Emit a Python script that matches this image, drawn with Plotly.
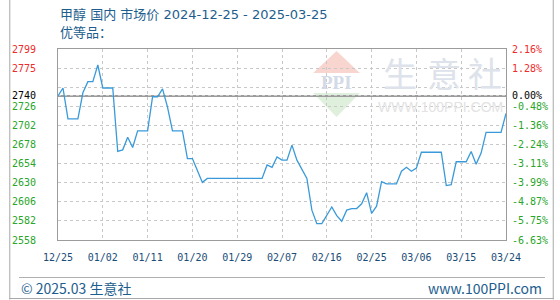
import plotly.graph_objects as go
import pandas as pd

# ---------------- data ----------------
dates = pd.date_range("2024-12-25", "2025-03-25", freq="D")
prices = [
    2740, 2750, 2711, 2711, 2711, 2744, 2758, 2758, 2779, 2750,
    2750, 2750, 2670, 2672, 2688, 2675, 2696, 2696, 2696, 2739,
    2739, 2749, 2726, 2696, 2696, 2696, 2661, 2661, 2646, 2631,
    2636, 2636, 2636, 2636, 2636, 2636, 2636, 2636, 2636, 2636,
    2636, 2636, 2653, 2650, 2663, 2659, 2659, 2678, 2659, 2647,
    2636, 2596, 2579, 2579, 2590, 2600, 2589, 2582, 2596, 2598,
    2598, 2604, 2618, 2592, 2601, 2632, 2629, 2629, 2629, 2645,
    2650, 2645, 2649, 2669, 2669, 2669, 2669, 2669, 2627, 2628,
    2657, 2657, 2657, 2670, 2654, 2668, 2694, 2694, 2694, 2694,
    2718,
]
base_price = 2740

y_tick_values = [2558.34, 2582.43, 2606.51, 2630.60, 2654.68, 2678.76,
                 2702.85, 2726.93, 2740.00, 2751.02, 2775.10, 2799.18]
y_tick_labels = ["2558", "2582", "2606", "2630", "2654", "2678",
                 "2702", "2726", "2740", "", "2775", "2799"]
pct_tick_labels = ["-6.63%", "-5.75%", "-4.87%", "-3.99%", "-3.11%", "-2.24%",
                   "-1.36%", "-0.48%", "0.00%", "", "1.28%", "2.16%"]

x_tick_dates = ["2024-12-25", "2025-01-03", "2025-01-12", "2025-01-21",
                "2025-01-30", "2025-02-08", "2025-02-17", "2025-02-26",
                "2025-03-07", "2025-03-16", "2025-03-25"]
x_tick_labels = ["12/25", "01/02", "01/11", "01/20", "01/29", "02/07",
                 "02/16", "02/25", "03/06", "03/15", "03/24"]

title_line1 = "甲醇 国内 市场价 2024-12-25 - 2025-03-25"
title_line2 = "优等品："

# ---------------- style ----------------
RED = "#ee2b2b"
GREEN = "#2aa52a"
BLACK = "#000000"
BLUE_TXT = "#1d5e8e"
LINE = "#3a9ad9"
GRID = "#c8c8c8"
FRAME = "#9c9c9c"

W, H = 560, 300
L, R, T, B = 50, 510, 49, 240


def px(x):
    return (x - L) / (R - L)


def py(y):
    return (B - y) / (B - T)


def colored(labels, values):
    out = []
    for lab, v in zip(labels, values):
        if lab == "":
            out.append("")
            continue
        if abs(v - base_price) < 0.5:
            c = BLACK
        elif v > base_price:
            c = RED
        else:
            c = GREEN
        out.append('<span style="color:%s">%s</span>' % (c, lab))
    return out


fig = go.Figure()
fig.add_trace(go.Scatter(x=dates, y=prices, mode="lines",
                         line=dict(color=LINE, width=1.3),
                         hoverinfo="skip", showlegend=False))
fig.add_trace(go.Scatter(x=dates, y=prices, mode="lines", yaxis="y2",
                         line=dict(color="rgba(0,0,0,0)", width=0),
                         hoverinfo="skip", showlegend=False))

tick_font = dict(family="DejaVu Sans Mono", size=10)
y_range = [y_tick_values[0], y_tick_values[-1]]

fig.update_layout(
    width=W, height=H,
    margin=dict(l=L, r=W - R, t=T, b=H - B, pad=0),
    paper_bgcolor="white", plot_bgcolor="white",
    showlegend=False,
    xaxis=dict(
        type="date",
        range=[dates[0], dates[-1]],
        tickvals=x_tick_dates, ticktext=x_tick_labels,
        tickfont=dict(family="DejaVu Sans Mono", size=10, color="#1a4c78"),
        ticks="outside", ticklen=8, tickcolor="rgba(0,0,0,0)",
        showgrid=True, gridcolor=GRID, griddash="3px,3px", gridwidth=1,
        showline=True, linecolor=FRAME, linewidth=1, mirror=True,
        zeroline=False, fixedrange=True,
    ),
    yaxis=dict(
        range=y_range,
        tickvals=y_tick_values, ticktext=colored(y_tick_labels, y_tick_values),
        tickfont=tick_font,
        ticks="outside", ticklen=19, tickcolor="rgba(0,0,0,0)",
        showgrid=True, gridcolor=GRID, griddash="3px,3px", gridwidth=1,
        showline=True, linecolor=FRAME, linewidth=1, mirror=True,
        zeroline=False, fixedrange=True,
    ),
    yaxis2=dict(
        range=y_range, overlaying="y", side="right",
        tickvals=y_tick_values, ticktext=colored(pct_tick_labels, y_tick_values),
        tickfont=tick_font,
        ticks="outside", ticklen=3, tickcolor="rgba(0,0,0,0)",
        showgrid=False, showline=False, zeroline=False, fixedrange=True,
    ),
)

shapes = []
# watermark logo (below gridlines)
shapes.append(dict(type="path", xref="paper", yref="paper", layer="below",
                   path="M %f %f L %f %f L %f %f Z" % (px(312), py(73), px(336), py(51), px(360), py(73)),
                   fillcolor="#f8d6cf", line=dict(width=0)))
shapes.append(dict(type="path", xref="paper", yref="paper", layer="below",
                   path="M %f %f L %f %f L %f %f Z" % (px(312), py(93), px(360), py(93), px(336), py(117)),
                   fillcolor="#dff0dc", line=dict(width=0)))
# baseline at base price
shapes.append(dict(type="line", xref="paper", yref="y", x0=0, x1=1,
                   y0=base_price, y1=base_price, layer="below",
                   line=dict(color=FRAME, width=2)))
# footer separator
shapes.append(dict(type="line", xref="paper", yref="paper",
                   x0=px(10), x1=px(550), y0=py(277.5), y1=py(277.5),
                   line=dict(color="#b0b0b0", width=1)))
# outer frame (left, right, bottom)
shapes.append(dict(type="line", xref="paper", yref="paper",
                   x0=px(0.5), x1=px(0.5), y0=py(0), y1=py(299.5),
                   line=dict(color="#a8a8a8", width=1)))
shapes.append(dict(type="line", xref="paper", yref="paper",
                   x0=px(558.5), x1=px(558.5), y0=py(0), y1=py(299.5),
                   line=dict(color="#a8a8a8", width=1)))
shapes.append(dict(type="line", xref="paper", yref="paper",
                   x0=px(0), x1=px(559), y0=py(298.5), y1=py(298.5),
                   line=dict(color="#a8a8a8", width=1)))
fig.update_layout(shapes=shapes)

ann = []
title_font = dict(family="DejaVu Sans, Noto Sans CJK SC", size=13, color=BLUE_TXT)
ann.append(dict(text=title_line1, xref="paper", yref="paper", x=px(50), y=py(15),
                xanchor="left", yanchor="middle", showarrow=False, font=title_font))
ann.append(dict(text=title_line2, xref="paper", yref="paper", x=px(50), y=py(33),
                xanchor="left", yanchor="middle", showarrow=False, font=title_font))
foot_font = dict(family="Noto Sans CJK SC", size=14, color=BLUE_TXT)
ann.append(dict(text="© 2025.03 生意社", xref="paper", yref="paper", x=px(10), y=py(288),
                xanchor="left", yanchor="middle", showarrow=False, font=foot_font))
ann.append(dict(text="www.100PPI.com", xref="paper", yref="paper", x=px(549), y=py(288),
                xanchor="right", yanchor="middle", showarrow=False, font=foot_font))
# watermark text
for ch, cx in zip(["生", "意", "社"], [401, 446, 488]):
    ann.append(dict(text=ch, xref="paper", yref="paper", x=px(cx), y=py(72.5),
                    xanchor="center", yanchor="middle", showarrow=False,
                    font=dict(family="Noto Sans CJK SC", size=34, color="#dde2eb")))
ann.append(dict(text="<b>PPI</b>", xref="paper", yref="paper", x=px(336), y=py(82),
                xanchor="center", yanchor="middle", showarrow=False,
                font=dict(family="Liberation Serif", size=19, color="#d3dae8")))
ann.append(dict(text="WWW.100PPI.COM", xref="paper", yref="paper", x=px(442.5), y=py(107),
                xanchor="center", yanchor="middle", showarrow=False,
                font=dict(family="Liberation Sans", size=14, color="#e3e3e3")))
fig.update_layout(annotations=ann)

fig.write_html("out.html")
